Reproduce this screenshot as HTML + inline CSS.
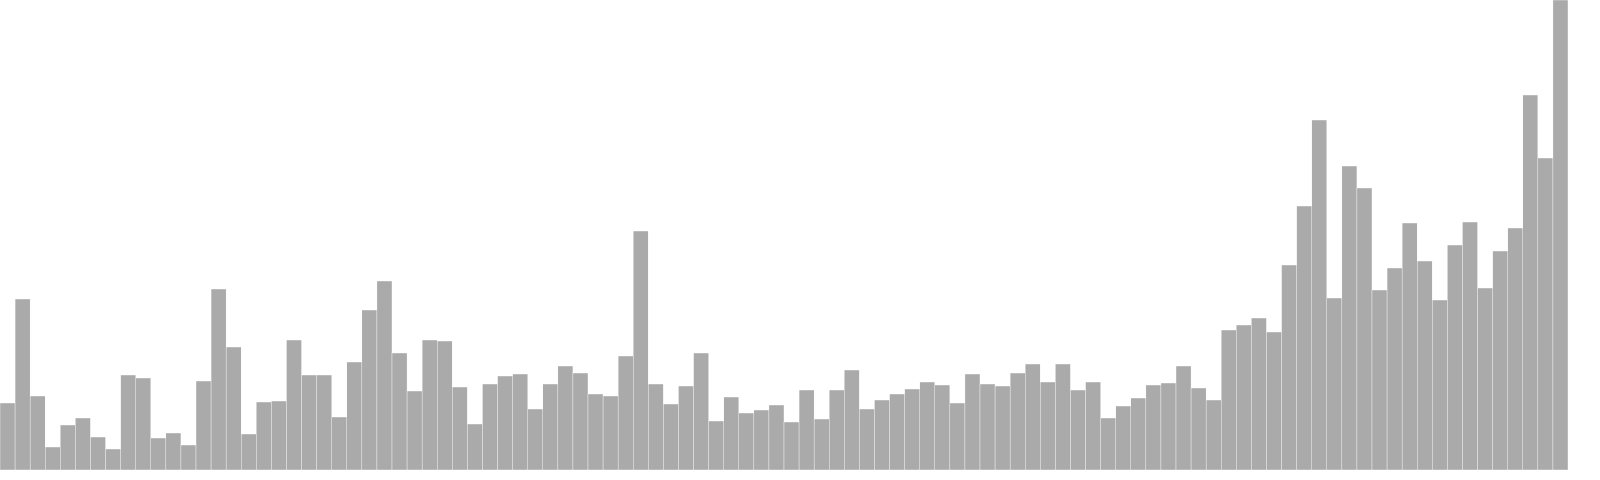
<!DOCTYPE html>
<html><head><meta charset="utf-8"><style>html,body{margin:0;padding:0;background:#fff;}svg{display:block;}</style></head>
<body>
<svg id="chart" width="1600" height="480" viewBox="0 0 1600 480" xmlns="http://www.w3.org/2000/svg"></svg>
<script>
const tops = [403,299,396,447,425,418,437,449,375,378,438,433,445,381,289,347,434,402,401,340,375,375,417,362,310,281,353,391,340,341,387,424,384,376,374,409,384,366,373,394,396,356,231,384,404,386,353,421,397,413,410,405,422,390,419,390,370,409,400,394,389,382,385,403,374,384,386,373,364,382,364,390,382,418,406,398,385,383,366,388,400,330,325,318,332,265,206,120,298,166,188,290,268,223,261,300,245,222,288,251,228,95,158,0];
const values = tops.map(t => 470 - t);
const maxValue = 470;
const baseY = 470, plotW = 1568;
const svg = document.getElementById('chart');
const bw = plotW / values.length;
const x = i => i * bw;
const y = v => baseY - v / maxValue * baseY;
values.forEach((v, i) => {
  const r = document.createElementNS('http://www.w3.org/2000/svg', 'rect');
  r.setAttribute('x', x(i));
  r.setAttribute('y', y(v));
  r.setAttribute('width', bw);
  r.setAttribute('height', baseY - y(v));
  r.setAttribute('fill', '#aaaaaa');
  r.setAttribute('stroke', '#ffffff');
  r.setAttribute('stroke-width', '0.4');
  
  
  svg.appendChild(r);
});
</script>
</body></html>
